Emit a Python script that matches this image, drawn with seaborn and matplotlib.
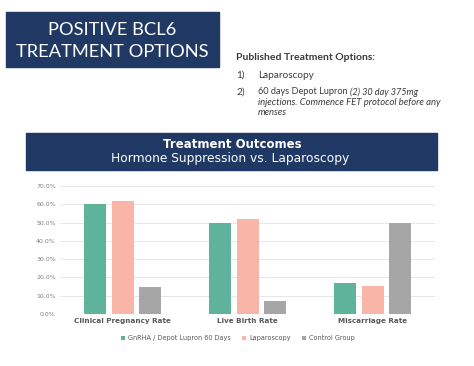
import pandas as pd
import numpy as np
import matplotlib
matplotlib.use('Agg')
from matplotlib import pyplot as plt
from matplotlib.patches import Rectangle
import seaborn as sns

# chart values (percent)
outcomes = ['Clinical Pregnancy Rate', 'Live Birth Rate', 'Miscarriage Rate']
groups = ['GnRHA / Depot Lupron 60 Days', 'Laparoscopy', 'Control Group']
gnrha = [60.0, 50.0, 16.7]
laparoscopy = [61.8, 52.2, 15.4]
control = [14.8, 7.3, 50.0]
yticks = [0, 10, 20, 30, 40, 50, 60, 70]

df = pd.DataFrame({
    'outcome': outcomes * 3,
    'group': np.repeat(groups, 3),
    'rate': gnrha + laparoscopy + control,
})

sns.set_style('whitegrid')
plt.rcParams['font.family'] = ['Lato', 'DejaVu Sans']

navy = '#203864'
pal = ['#5fb39b', '#f8b5a8', '#a6a6a6']
chart_font = 'DejaVu Sans'

fig = plt.figure(figsize=(4.74, 3.66), dpi=100)

# bar chart
ax = fig.add_axes([60 / 474, 1 - 314 / 366, 375 / 474, 128 / 366])
sns.barplot(data=df, x='outcome', y='rate', hue='group', palette=pal,
            saturation=1, width=0.66, gap=0.2, linewidth=0, ax=ax, legend=True)
ax.set_ylim(0, 70)
ax.set_yticks(yticks)
ax.set_yticklabels([f'{v:.1f}%' for v in yticks], fontsize=4.5, color='#7f7f7f',
                   family=chart_font)
ax.set_xticks(range(len(outcomes)))
ax.set_xticklabels(outcomes, fontsize=5.2, fontweight='bold', color='#595959',
                   family=chart_font)
ax.set_xlabel('')
ax.set_ylabel('')
ax.grid(axis='y', color='#e3e3e3', linewidth=0.6)
ax.grid(axis='x', visible=False)
ax.tick_params(length=0, pad=3)
for s in ax.spines.values():
    s.set_visible(False)

handles, labels = ax.get_legend_handles_labels()
ax.get_legend().remove()
fig.legend(handles, labels, loc='center', bbox_to_anchor=(238 / 474, 1 - 338 / 366),
           ncol=3, frameon=False, prop={'family': chart_font, 'size': 4.7},
           labelcolor='#595959', handlelength=0.6, handleheight=0.6,
           handletextpad=0.4, columnspacing=1.8)

# slide title box
fig.patches.append(Rectangle((6 / 474, 1 - 67 / 366), 213 / 474, 55 / 366,
                             transform=fig.transFigure, color=navy, zorder=0))
fig.text(112 / 474, 1 - 30 / 366, 'POSITIVE BCL6', color='white', fontsize=13.2,
         ha='center', va='center')
fig.text(112 / 474, 1 - 52 / 366, 'TREATMENT OPTIONS', color='white', fontsize=13.2,
         ha='center', va='center')

# published options text
txt = '#3a3a3a'
fig.text(236 / 474, 1 - 58 / 366, 'Published Treatment Options:', color=txt,
         fontsize=7.5, fontweight='bold', va='center')
fig.text(236 / 474, 1 - 75 / 366, '1)', color=txt, fontsize=7.2, va='center')
fig.text(258 / 474, 1 - 75 / 366, 'Laparoscopy', color=txt, fontsize=7.2, va='center')
fig.text(236 / 474, 1 - 92 / 366, '2)', color=txt, fontsize=7.2, va='center')
fig.text(258 / 474, 1 - 92 / 366, '60 days Depot Lupron', color=txt,
         fontsize=6.6, va='center')
fig.text(350 / 474, 1 - 92 / 366, '(2) 30 day 375mg', color=txt, fontsize=6.6,
         style='italic', va='center')
fig.text(258 / 474, 1 - 102.5 / 366, 'injections. Commence FET protocol before any',
         color=txt, fontsize=6.8, style='italic', va='center')
fig.text(258 / 474, 1 - 112.5 / 366, 'menses', color=txt, fontsize=6.8,
         style='italic', va='center')

# chart header box
fig.patches.append(Rectangle((26 / 474, 1 - 170 / 366), 411 / 474, 37 / 366,
                             transform=fig.transFigure, color=navy, zorder=0))
fig.text(232 / 474, 1 - 144 / 366, 'Treatment Outcomes', color='white', fontsize=8.5,
         fontweight='bold', ha='center', va='center', family=chart_font)
fig.text(230 / 474, 1 - 159 / 366, 'Hormone Suppression vs. Laparoscopy', color='white',
         fontsize=8.8, ha='center', va='center', family=chart_font)

fig.savefig('out.png', dpi=100, facecolor='white')
